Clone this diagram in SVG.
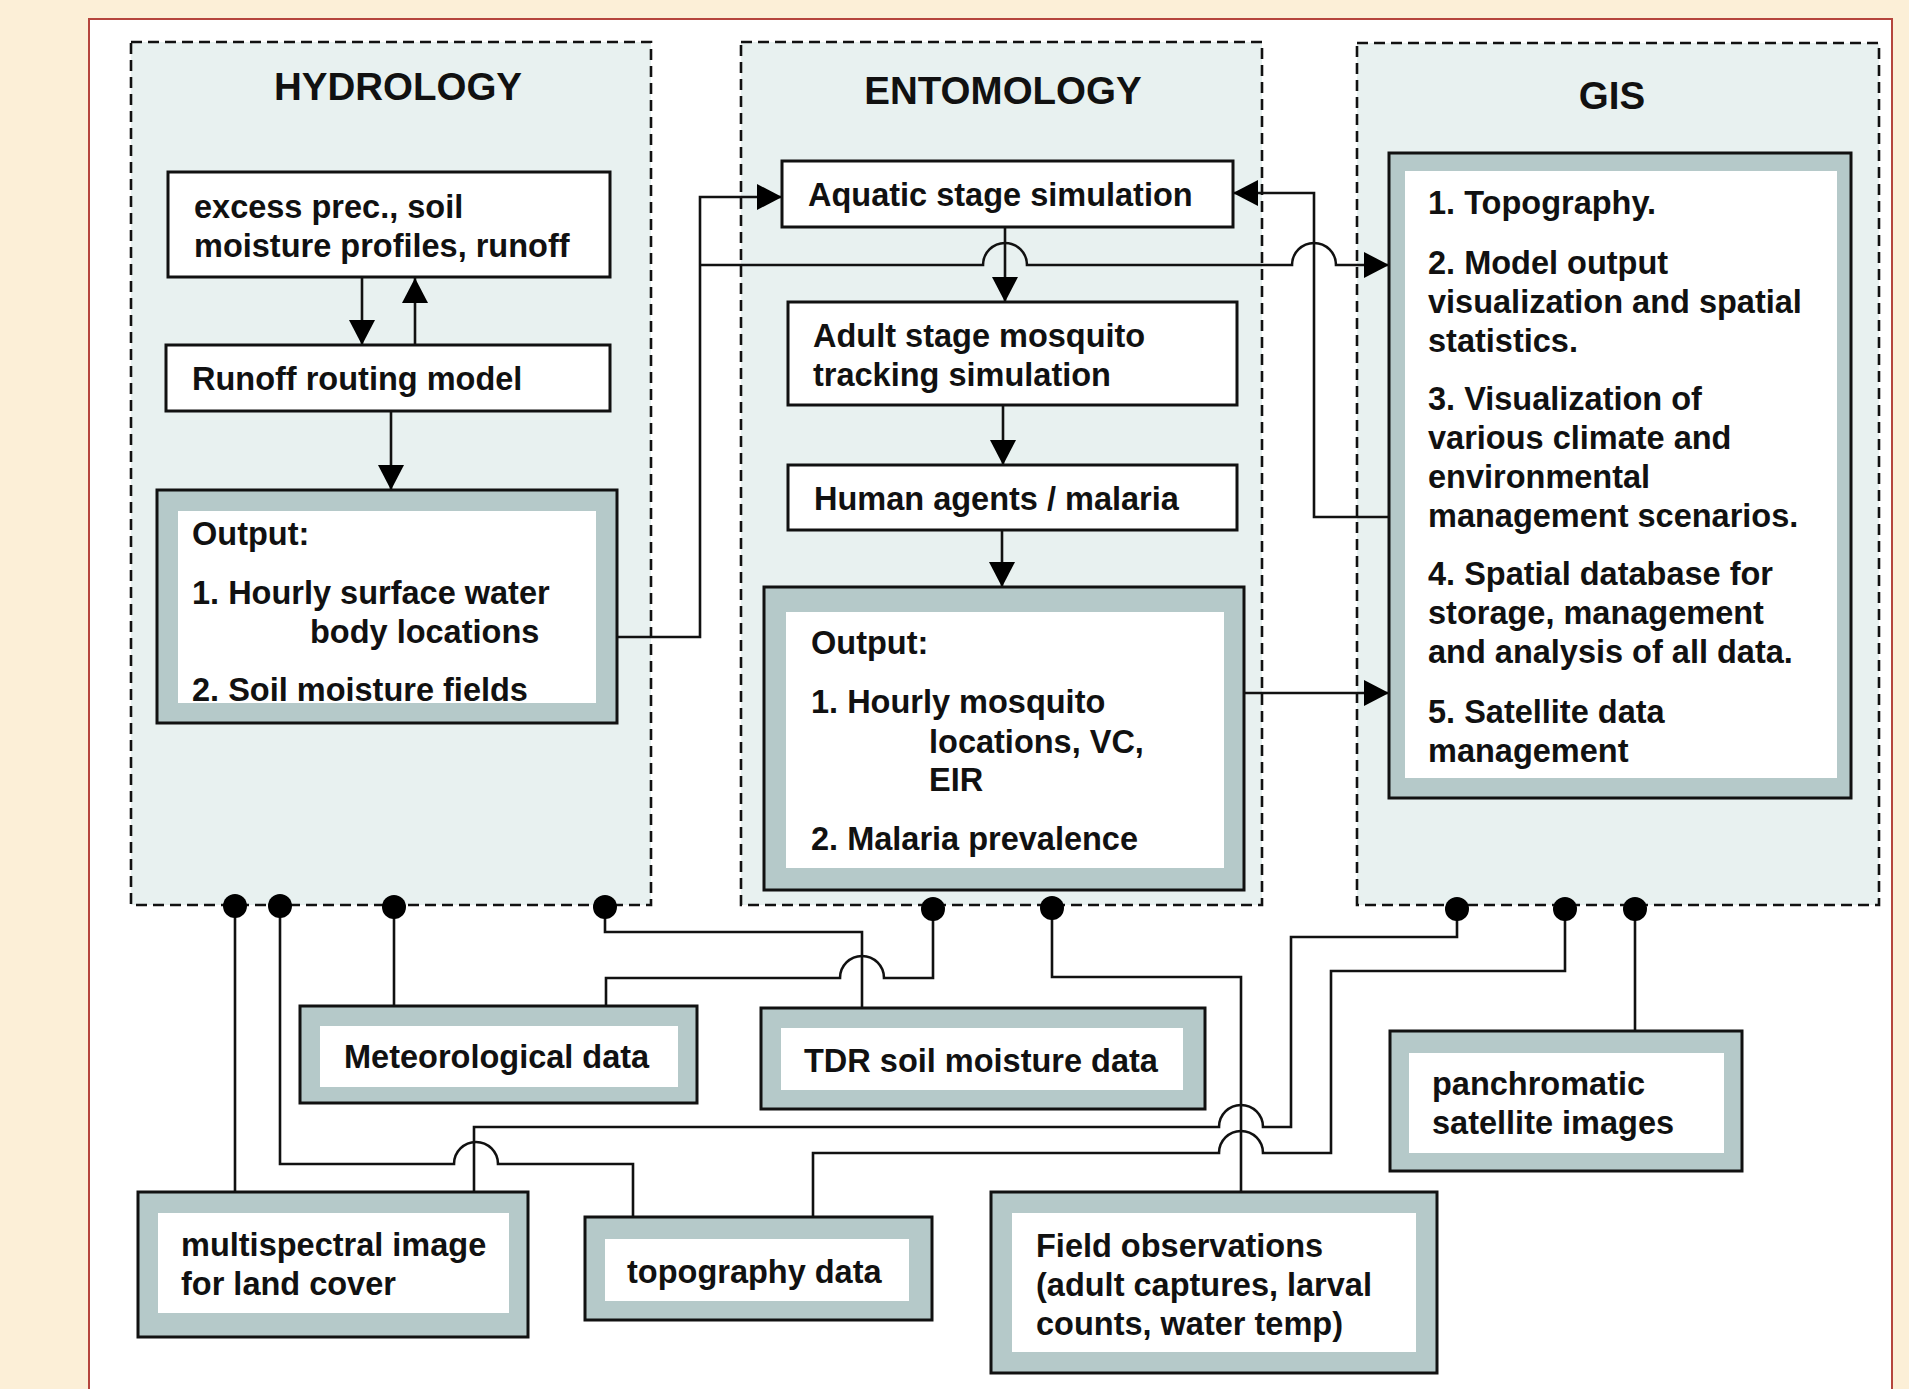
<svg xmlns="http://www.w3.org/2000/svg" width="1909" height="1389" viewBox="0 0 1909 1389">
<defs>
<style>
.dash{fill:#e8f1f0;stroke:#111;stroke-width:2.6;stroke-dasharray:11 6}
.box{fill:#fff;stroke:#111;stroke-width:3}
.frame{fill:#b5c9c9;stroke:#111;stroke-width:3}
.inner{fill:#fff}
.t{font-family:"Liberation Sans",Arial,sans-serif;font-weight:bold;font-size:32.5px;fill:#111}
.h{font-size:38.5px;text-anchor:middle}
.c{fill:none;stroke:#111;stroke-width:2.6}
.a{marker-end:url(#arr)}
.dot{fill:#000}
</style>
<marker id="arr" markerUnits="userSpaceOnUse" markerWidth="25" markerHeight="26" viewBox="0 0 25 26" refX="25" refY="13" orient="auto">
<path d="M0,0 L25,13 L0,26 z" fill="#000"/>
</marker>
</defs>
<rect x="0" y="0" width="1909" height="1389" fill="#fcefd7"/>
<rect x="89" y="19" width="1803" height="1380" fill="#fff" stroke="#b5453d" stroke-width="2"/>

<g id="group-hydrology">
<rect class="dash" x="131" y="42" width="520" height="863"/>
<text class="t h" x="398" y="100">HYDROLOGY</text>
</g>
<g id="group-entomology">
<rect class="dash" x="741" y="42" width="521" height="863"/>
<text class="t h" x="1003" y="104">ENTOMOLOGY</text>
</g>
<g id="group-gis">
<rect class="dash" x="1357" y="43" width="522" height="862"/>
<text class="t h" x="1612" y="109">GIS</text>
</g>

<g id="connectors">
<path class="c a" d="M362,277 V345"/>
<path class="c a" d="M415,345 V278"/>
<path class="c a" d="M391,411 V490"/>
<path class="c a" d="M617,637 H700 V197 H782"/>
<path class="c a" d="M700,265 H983 A22,22 0 0 1 1027,265 H1292 A22,22 0 0 1 1336,265 H1389"/>
<path class="c a" d="M1005,227 V302"/>
<path class="c a" d="M1389,517 H1314 V193 H1233"/>
<path class="c a" d="M1003,405 V465"/>
<path class="c a" d="M1002,530 V587"/>
<path class="c a" d="M1244,693 H1389"/>
<path class="c" d="M235,907 V1192"/>
<path class="c" d="M280,907 V1164 H454 A22,22 0 0 1 498,1164 H633 V1217"/>
<path class="c" d="M394,907 V1006"/>
<path class="c" d="M605,907 V932 H862 V1008"/>
<path class="c" d="M933,909 V978 H884 A22,22 0 0 0 840,978 H606 V1006"/>
<path class="c" d="M1052,909 V977 H1241 V1192"/>
<path class="c" d="M1457,909 V937 H1291 V1127 H1263 A22,22 0 0 0 1219,1127 H474 V1192"/>
<path class="c" d="M1565,909 V971 H1331 V1153 H1263 A22,22 0 0 0 1219,1153 H813 V1217"/>
<path class="c" d="M1635,909 V1031"/>
<circle class="dot" cx="235" cy="906" r="12"/>
<circle class="dot" cx="280" cy="906" r="12"/>
<circle class="dot" cx="394" cy="907" r="12"/>
<circle class="dot" cx="605" cy="907" r="12"/>
<circle class="dot" cx="933" cy="909" r="12"/>
<circle class="dot" cx="1052" cy="908" r="12"/>
<circle class="dot" cx="1457" cy="909" r="12"/>
<circle class="dot" cx="1565" cy="909" r="12"/>
<circle class="dot" cx="1635" cy="909" r="12"/>
</g>

<g id="node-excess">
<rect class="box" x="168" y="172" width="442" height="105"/>
<text class="t" x="194" y="218">excess prec., soil</text>
<text class="t" x="194" y="257">moisture profiles, runoff</text>
</g>
<g id="node-runoff">
<rect class="box" x="166" y="345" width="444" height="66"/>
<text class="t" x="192" y="390">Runoff routing model</text>
</g>
<g id="node-hydro-output">
<rect class="frame" x="157" y="490" width="460" height="233"/>
<rect class="inner" x="178" y="511" width="418" height="192"/>
<text class="t" x="192" y="545">Output:</text>
<text class="t" x="192" y="604">1. Hourly surface water</text>
<text class="t" x="310" y="643">body locations</text>
<text class="t" x="192" y="701">2. Soil moisture fields</text>
</g>

<g id="node-aquatic">
<rect class="box" x="782" y="161" width="451" height="66"/>
<text class="t" x="808" y="206">Aquatic stage simulation</text>
</g>
<g id="node-adult">
<rect class="box" x="788" y="302" width="449" height="103"/>
<text class="t" x="813" y="347">Adult stage mosquito</text>
<text class="t" x="813" y="386">tracking simulation</text>
</g>
<g id="node-human">
<rect class="box" x="788" y="465" width="449" height="65"/>
<text class="t" x="814" y="510">Human agents / malaria</text>
</g>
<g id="node-ento-output">
<rect class="frame" x="764" y="587" width="480" height="303"/>
<rect class="inner" x="786" y="612" width="438" height="256"/>
<text class="t" x="811" y="654">Output:</text>
<text class="t" x="811" y="713">1. Hourly mosquito</text>
<text class="t" x="929" y="753">locations, VC,</text>
<text class="t" x="929" y="791">EIR</text>
<text class="t" x="811" y="850">2. Malaria prevalence</text>
</g>

<g id="node-gis-functions">
<rect class="frame" x="1389" y="153" width="462" height="645"/>
<rect class="inner" x="1405" y="171" width="432" height="607"/>
<text class="t" x="1428" y="214">1. Topography.</text>
<text class="t" x="1428" y="274">2. Model output</text>
<text class="t" x="1428" y="313">visualization and spatial</text>
<text class="t" x="1428" y="352">statistics.</text>
<text class="t" x="1428" y="410">3. Visualization of</text>
<text class="t" x="1428" y="449">various climate and</text>
<text class="t" x="1428" y="488">environmental</text>
<text class="t" x="1428" y="527">management scenarios.</text>
<text class="t" x="1428" y="585">4. Spatial database for</text>
<text class="t" x="1428" y="624">storage, management</text>
<text class="t" x="1428" y="663">and analysis of all data.</text>
<text class="t" x="1428" y="723">5. Satellite data</text>
<text class="t" x="1428" y="762">management</text>
</g>

<g id="node-meteo">
<rect class="frame" x="300" y="1006" width="397" height="97"/>
<rect class="inner" x="320" y="1026" width="358" height="61"/>
<text class="t" x="344" y="1068">Meteorological data</text>
</g>
<g id="node-tdr">
<rect class="frame" x="761" y="1008" width="444" height="101"/>
<rect class="inner" x="781" y="1028" width="402" height="62"/>
<text class="t" x="804" y="1072">TDR soil moisture data</text>
</g>
<g id="node-multispectral">
<rect class="frame" x="138" y="1192" width="390" height="145"/>
<rect class="inner" x="158" y="1213" width="351" height="100"/>
<text class="t" x="181" y="1256">multispectral image</text>
<text class="t" x="181" y="1295">for land cover</text>
</g>
<g id="node-topography">
<rect class="frame" x="585" y="1217" width="347" height="103"/>
<rect class="inner" x="605" y="1239" width="304" height="62"/>
<text class="t" x="627" y="1283">topography data</text>
</g>
<g id="node-field">
<rect class="frame" x="991" y="1192" width="446" height="181"/>
<rect class="inner" x="1012" y="1213" width="404" height="139"/>
<text class="t" x="1036" y="1257">Field observations</text>
<text class="t" x="1036" y="1296">(adult captures, larval</text>
<text class="t" x="1036" y="1335">counts, water temp)</text>
</g>
<g id="node-panchromatic">
<rect class="frame" x="1390" y="1031" width="352" height="140"/>
<rect class="inner" x="1409" y="1053" width="315" height="100"/>
<text class="t" x="1432" y="1095">panchromatic</text>
<text class="t" x="1432" y="1134">satellite images</text>
</g>
</svg>
